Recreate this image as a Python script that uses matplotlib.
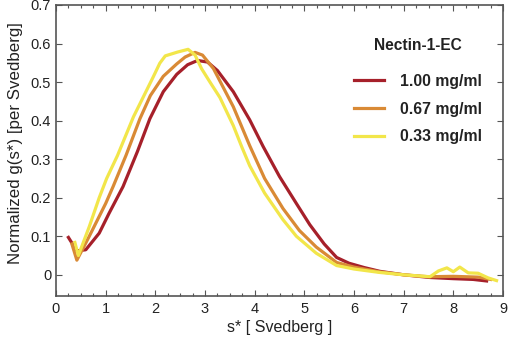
import matplotlib
matplotlib.use("Agg")
import matplotlib.pyplot as plt
from matplotlib.ticker import MultipleLocator, FixedLocator

plt.rcParams['font.family'] = ['Liberation Sans', 'DejaVu Sans']

s_red = [0.25, 0.42, 0.6, 0.87, 1.07, 1.35, 1.64, 1.89, 2.16, 2.43, 2.65, 2.85, 3.05, 3.25, 3.57, 3.9, 4.17, 4.5, 4.84, 5.11, 5.4, 5.65, 5.9, 6.2, 6.52, 7.0, 7.53, 8.0, 8.4, 8.67]
g_red = [0.097, 0.062, 0.065, 0.108, 0.16, 0.229, 0.32, 0.405, 0.475, 0.52, 0.545, 0.556, 0.552, 0.53, 0.475, 0.402, 0.333, 0.255, 0.185, 0.13, 0.08, 0.045, 0.03, 0.019, 0.009, 0.0, -0.007, -0.01, -0.012, -0.016]

s_orange = [0.32, 0.42, 0.67, 1.0, 1.15, 1.41, 1.69, 1.9, 2.16, 2.43, 2.6, 2.8, 2.95, 3.17, 3.57, 3.9, 4.2, 4.57, 4.9, 5.24, 5.65, 6.0, 6.5, 7.0, 7.5, 8.0, 8.5, 8.75]
g_orange = [0.08, 0.038, 0.1, 0.185, 0.229, 0.31, 0.405, 0.465, 0.515, 0.547, 0.565, 0.577, 0.57, 0.535, 0.436, 0.335, 0.25, 0.172, 0.115, 0.072, 0.032, 0.02, 0.008, 0.0, -0.005, -0.004, -0.006, -0.012]

s_yellow = [0.38, 0.45, 0.67, 0.87, 1.02, 1.24, 1.56, 1.96, 2.09, 2.2, 2.45, 2.66, 2.8, 2.93, 3.1, 3.3, 3.57, 3.74, 3.9, 4.2, 4.57, 4.84, 5.24, 5.65, 6.0, 6.52, 7.0, 7.53, 7.7, 7.87, 8.0, 8.13, 8.3, 8.5, 8.7, 8.87]
g_yellow = [0.084, 0.05, 0.125, 0.2, 0.25, 0.31, 0.41, 0.514, 0.549, 0.568, 0.578, 0.585, 0.57, 0.535, 0.5, 0.46, 0.387, 0.332, 0.283, 0.212, 0.143, 0.1, 0.056, 0.024, 0.015, 0.006, 0.0, -0.005, 0.01, 0.018, 0.008, 0.02, 0.005, 0.004, -0.008, -0.015]

labels = ['1.00 mg/ml', '0.67 mg/ml', '0.33 mg/ml']
colors = ['#a6202a', '#d98a35', '#f2e64a']

fig = plt.figure(figsize=(5.11, 3.42), dpi=100)
ax = fig.add_axes([56/511, 1 - 296/342, (503-56)/511, (296-5)/342])

for s, g, lab, c in zip([s_red, s_orange, s_yellow], [g_red, g_orange, g_yellow], labels, colors):
    ax.plot(s, g, color=c, lw=2.3, label=lab, solid_joinstyle='round')

ax.set_xlim(0, 9)
ax.set_ylim(-0.055, 0.7)
ax.xaxis.set_major_locator(MultipleLocator(1))
ax.xaxis.set_minor_locator(MultipleLocator(0.25))
ax.yaxis.set_major_locator(FixedLocator([0, 0.1, 0.2, 0.3, 0.4, 0.5, 0.6, 0.7]))
ax.set_yticklabels(['0', '0.1', '0.2', '0.3', '0.4', '0.5', '0.6', '0.7'])
ax.tick_params(which='both', direction='in', top=True, right=True, labelsize=10.5, colors='#555555', labelcolor='#222222')
ax.tick_params(which='major', length=4, width=0.8)
ax.tick_params(which='minor', length=2.5, width=0.8)
ax.tick_params(axis='x', pad=4)
for sp in ax.spines.values():
    sp.set_color('#555555')
    sp.set_linewidth(1.2)

ax.set_xlabel('s* [ Svedberg ]', fontsize=11.5, color='#222222', labelpad=3)
ax.set_ylabel('Normalized g(s*) [per Svedberg]', fontsize=12.2, color='#222222')
ax.yaxis.set_label_coords(-0.074, 0.525)

leg = ax.legend(loc='upper right', bbox_to_anchor=(0.985, 0.935), frameon=False,
                title='Nectin-1-EC', prop={'weight': 'bold', 'size': 11.4},
                handlelength=1.9, handletextpad=1.0, labelspacing=0.8)
leg.get_title().set_fontweight('bold')
leg.get_title().set_fontsize(11.2)
leg._legend_box.sep = 15
for t in leg.get_texts():
    t.set_color('#222222')
leg.get_title().set_color('#222222')

fig.savefig('out.png', dpi=100)
